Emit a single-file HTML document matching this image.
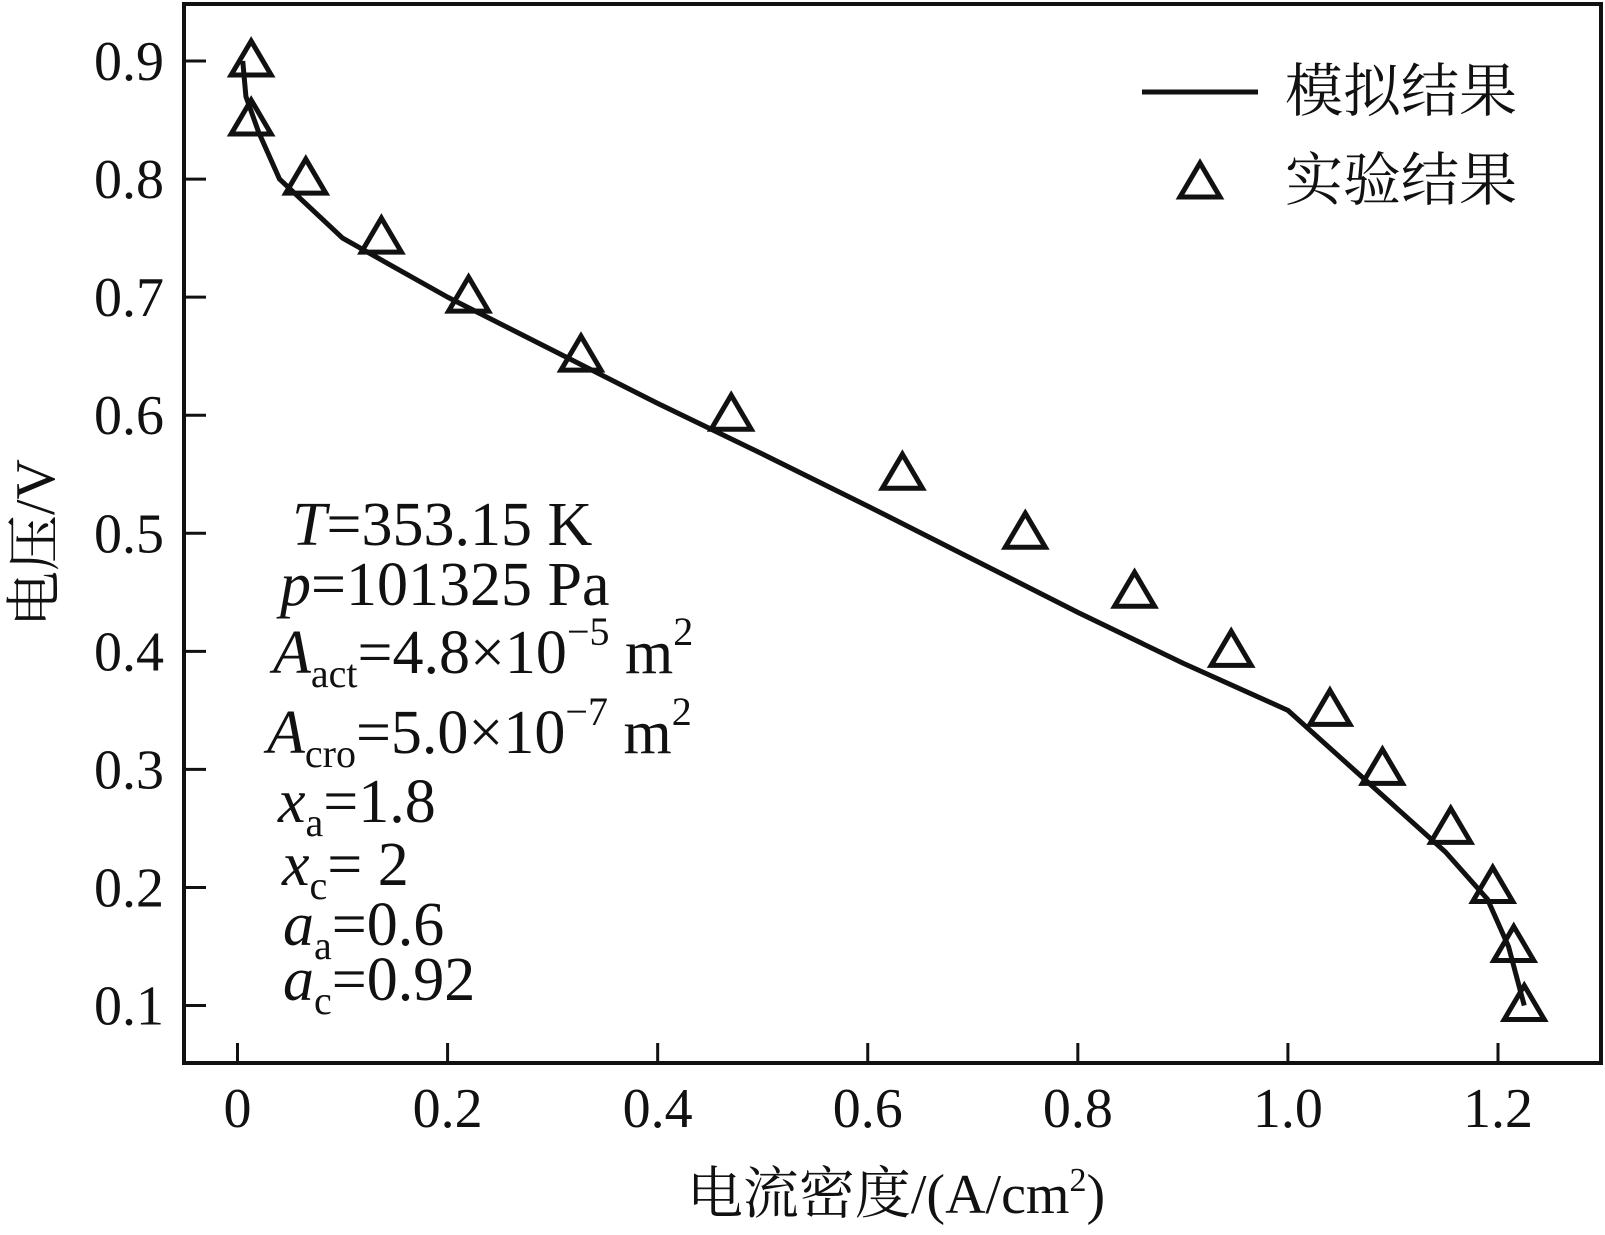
<!DOCTYPE html>
<html><head><meta charset="utf-8">
<style>
html,body{margin:0;padding:0;background:#fff;}
svg{display:block;}
svg text, svg tspan{font-family:"Liberation Serif","Times New Roman",Times,"Noto Serif CJK SC",serif;fill:#111;}
</style></head>
<body>
<svg id="chart" width="1605" height="1235" viewBox="0 0 1605 1235" font-family="'Liberation Serif', 'Noto Serif CJK SC', serif">
<rect x="184" y="4" width="1417" height="1059" fill="none" stroke="#111" stroke-width="4"/>
<g id="ticks"></g>
<g id="series"></g>
<text x="896" y="1213" font-size="56" text-anchor="middle">电流密度/(A/cm<tspan font-size="34" dy="-22">2</tspan><tspan dy="22">)</tspan></text>
<text transform="translate(54,543) rotate(-90)" font-size="56" text-anchor="middle">电压/V</text>
<g>
<line x1="1142" y1="92" x2="1258" y2="92" stroke="#111" stroke-width="5"/>
<text x="1285" y="111" font-size="58">模拟结果</text>
<polygon points="1200,163 1220,197 1180,197" fill="none" stroke="#111" stroke-width="5"/>
<text x="1285" y="200" font-size="58">实验结果</text>
</g>
<g font-size="62">
<text x="292" y="545"><tspan font-style="italic">T</tspan>=353.15 K</text>
<text x="280" y="605"><tspan font-style="italic">p</tspan>=101325 Pa</text>
<text x="273" y="673"><tspan font-style="italic">A</tspan><tspan font-size="40" dy="14">act</tspan><tspan dy="-14">=4.8×10</tspan><tspan font-size="40" dy="-28">−5</tspan><tspan dy="28"> m</tspan><tspan font-size="40" dy="-28">2</tspan></text>
<text x="267" y="753"><tspan font-style="italic">A</tspan><tspan font-size="40" dy="14">cro</tspan><tspan dy="-14">=5.0×10</tspan><tspan font-size="40" dy="-28">−7</tspan><tspan dy="28"> m</tspan><tspan font-size="40" dy="-28">2</tspan></text>
<text x="278" y="822"><tspan font-style="italic">x</tspan><tspan font-size="40" dy="14">a</tspan><tspan dy="-14">=1.8</tspan></text>
<text x="282" y="885"><tspan font-style="italic">x</tspan><tspan font-size="40" dy="14">c</tspan><tspan dy="-14">= 2</tspan></text>
<text x="283" y="945"><tspan font-style="italic">a</tspan><tspan font-size="40" dy="14">a</tspan><tspan dy="-14">=0.6</tspan></text>
<text x="283" y="1000"><tspan font-style="italic">a</tspan><tspan font-size="40" dy="14">c</tspan><tspan dy="-14">=0.92</tspan></text>
</g>
</svg>
<script>
const xTicks=[0,0.2,0.4,0.6,0.8,1.0,1.2];
const xTickLabels=["0","0.2","0.4","0.6","0.8","1.0","1.2"];
const yTicks=[0.1,0.2,0.3,0.4,0.5,0.6,0.7,0.8,0.9];
const yTickLabels=["0.1","0.2","0.3","0.4","0.5","0.6","0.7","0.8","0.9"];
const simX=[0.005,0.008,0.02,0.04,0.1,0.2,0.3,0.4,0.5,0.6,0.7,0.8,0.9,1.0,1.05,1.1,1.15,1.19,1.21,1.225];
const simY=[0.9,0.87,0.84,0.8,0.75,0.7,0.655,0.61,0.567,0.523,0.478,0.433,0.39,0.35,0.31,0.27,0.23,0.19,0.15,0.1];
const expX=[0.013,0.013,0.065,0.137,0.22,0.327,0.47,0.633,0.75,0.854,0.946,1.04,1.09,1.155,1.195,1.215,1.225];
const expY=[0.9,0.85,0.8,0.75,0.7,0.65,0.6,0.55,0.5,0.45,0.4,0.35,0.3,0.25,0.2,0.15,0.1];
const NS="http://www.w3.org/2000/svg";
function sx(v){return 237.5+v*(1498-237.5)/1.2;}
function sy(v){return 61+(0.9-v)*(1005.5-61)/0.8;}
const tg=document.getElementById('ticks');
xTicks.forEach((t,i)=>{
 const l=document.createElementNS(NS,'line');
 l.setAttribute('x1',sx(t));l.setAttribute('x2',sx(t));l.setAttribute('y1',1063);l.setAttribute('y2',1043);
 l.setAttribute('stroke','#111');l.setAttribute('stroke-width','3');
 
 
 tg.appendChild(l);
 const tx=document.createElementNS(NS,'text');
 tx.setAttribute('x',sx(t));tx.setAttribute('y',1127);tx.setAttribute('font-size','56');tx.setAttribute('text-anchor','middle');
 tx.textContent=xTickLabels[i];
 
 
 tg.appendChild(tx);
});
yTicks.forEach((t,i)=>{
 const l=document.createElementNS(NS,'line');
 l.setAttribute('x1',184);l.setAttribute('x2',206);l.setAttribute('y1',sy(t));l.setAttribute('y2',sy(t));
 l.setAttribute('stroke','#111');l.setAttribute('stroke-width','3');
 
 
 tg.appendChild(l);
 const tx=document.createElementNS(NS,'text');
 tx.setAttribute('x',164);tx.setAttribute('y',sy(t)+19);tx.setAttribute('font-size','56');tx.setAttribute('text-anchor','end');
 tx.textContent=yTickLabels[i];
 
 
 tg.appendChild(tx);
});
const sg=document.getElementById('series');
const pl=document.createElementNS(NS,'polyline');
pl.setAttribute('points',simX.map((x,i)=>sx(x)+','+sy(simY[i])).join(' '));
pl.setAttribute('fill','none');pl.setAttribute('stroke','#111');pl.setAttribute('stroke-width','5');pl.setAttribute('stroke-linejoin','round');


sg.appendChild(pl);
expX.forEach((x,i)=>{
 const cx=sx(x),cy=sy(expY[i])-2;
 const p=document.createElementNS(NS,'polygon');
 p.setAttribute('points',cx+','+(cy-18)+' '+(cx+20)+','+(cy+16)+' '+(cx-20)+','+(cy+16));
 p.setAttribute('fill','none');p.setAttribute('stroke','#111');p.setAttribute('stroke-width','5');
 
 
 sg.appendChild(p);
});
</script>
</body></html>
